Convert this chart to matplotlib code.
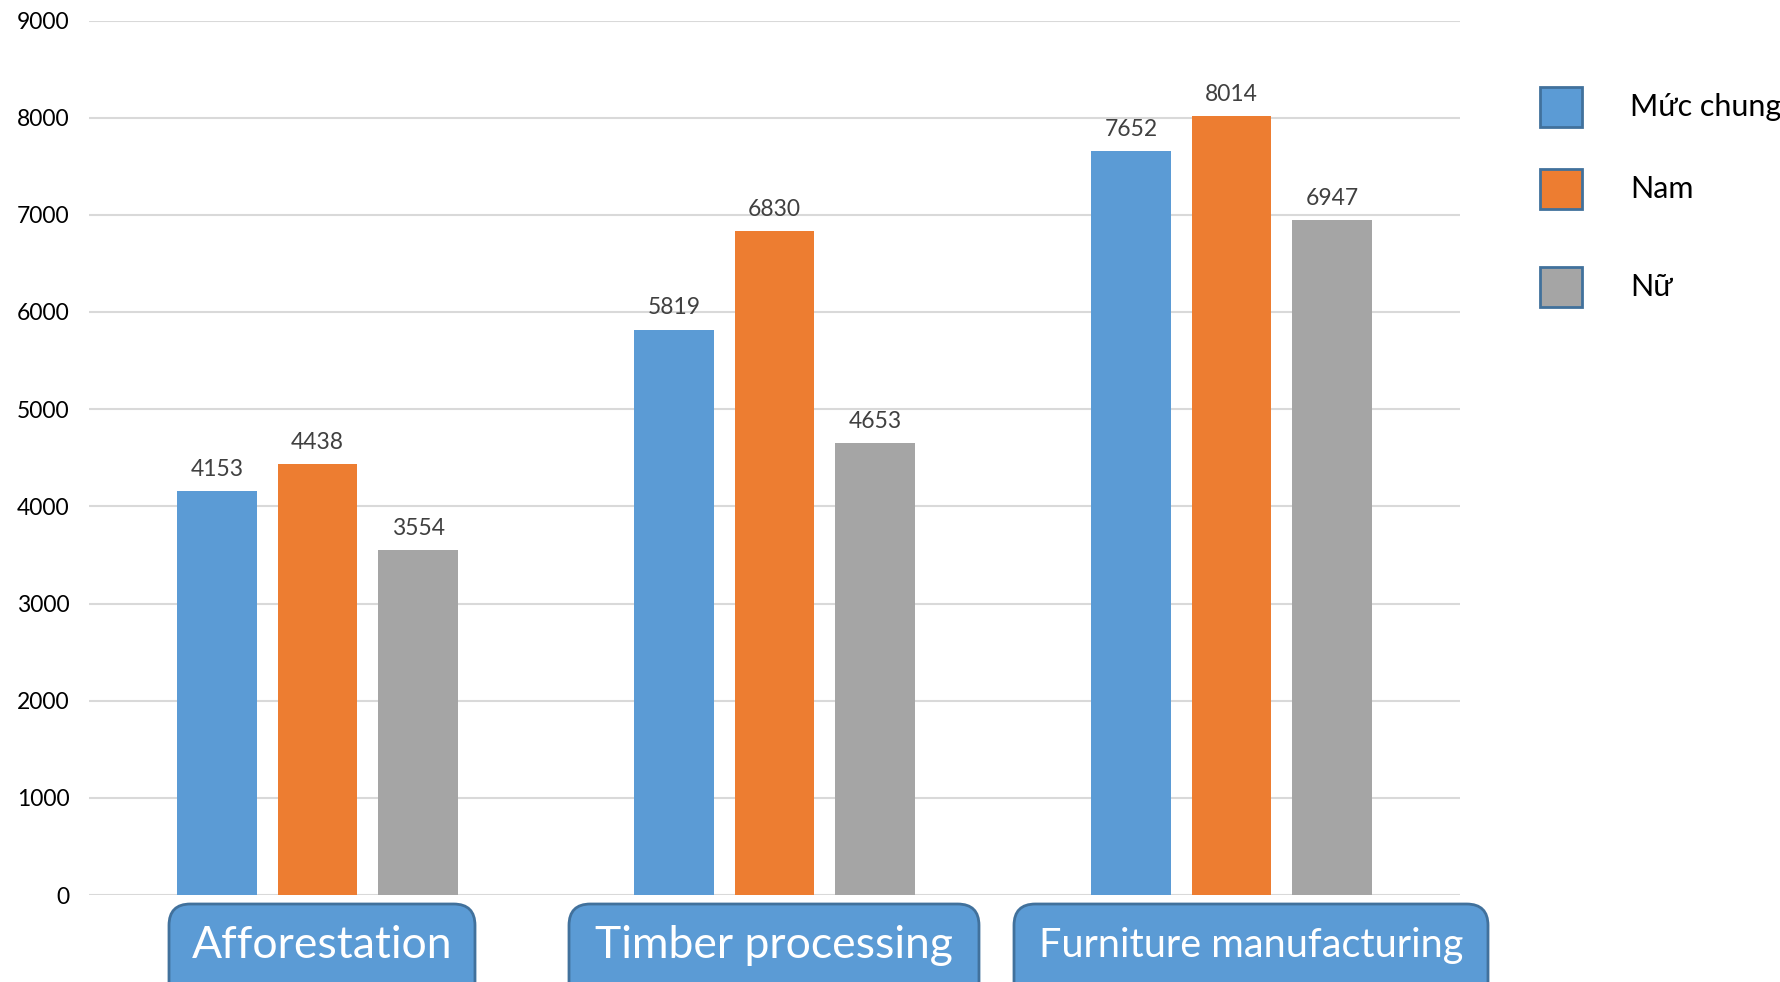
import matplotlib.pyplot as plt
import numpy as np
from matplotlib.patches import FancyBboxPatch, Rectangle

categories = ["Afforestation", "Timber processing", "Furniture manufacturing"]
series_names = ["Mức chung", "Nam", "Nữ"]
muc_chung = [4153, 5819, 7652]
nam = [4438, 6830, 8014]
nu = [3554, 4653, 6947]
yticks = [0, 1000, 2000, 3000, 4000, 5000, 6000, 7000, 8000, 9000]

colors = ["#5B9BD5", "#ED7D31", "#A5A5A5"]
W, H = 1781, 982

plt.rcParams['font.family'] = ['Lato', 'DejaVu Sans']

fig = plt.figure(figsize=(W / 100, H / 100), dpi=100)
ax = fig.add_axes([89 / W, 1 - 895 / H, (1460 - 89) / W, (895 - 20.5) / H])

x = np.arange(len(categories))
bw = 0.175
step = 0.22
for i, (vals, col) in enumerate(zip([muc_chung, nam, nu], colors)):
    bars = ax.bar(x + (i - 1) * step, vals, width=bw, color=col, zorder=3)
    ax.bar_label(bars, labels=[str(v) for v in vals], padding=8,
                 fontsize=16.5, color="#404040")

ax.set_xlim(-0.5, 2.5)
ax.set_ylim(0, 9000)
ax.set_yticks(yticks)
ax.set_yticklabels([str(t) for t in yticks], fontsize=16.5)
ax.tick_params(axis='y', length=0, pad=14)
ax.set_xticks([])
ax.grid(axis='y', color="#D9D9D9", linewidth=1.5, zorder=0)
for s in ax.spines.values():
    s.set_visible(False)

# category label boxes under the axis (pixel coords from top-left)
boxes = [(169, 475, 32), (569, 979, 32), (1014, 1488, 28.5)]
for name, (x0, x1, fs) in zip(categories, boxes):
    top = 904
    patch = FancyBboxPatch((x0 / W, (H - top - 120) / H), (x1 - x0) / W, 120 / H,
                           boxstyle="round,pad=0,rounding_size=0.012",
                           transform=fig.transFigure, facecolor="#5B9BD5",
                           edgecolor="#41719C", linewidth=2, mutation_aspect=W / H)
    fig.add_artist(patch)
    fig.text((x0 + x1) / 2 / W, 1 - 945 / H, name, ha='center', va='center',
             color='white', fontsize=fs)

# legend
leg_tops = [87, 169, 267]
for name, col, top in zip(series_names, colors, leg_tops):
    fig.add_artist(Rectangle((1540 / W, 1 - (top + 40) / H), 42 / W, 40 / H,
                             transform=fig.transFigure, facecolor=col,
                             edgecolor="#41719C", linewidth=2))
    fig.text(1630 / W, 1 - (top + 20) / H, name, ha='left', va='center',
             fontsize=22, color='black')

fig.savefig("out.png", dpi=100)
